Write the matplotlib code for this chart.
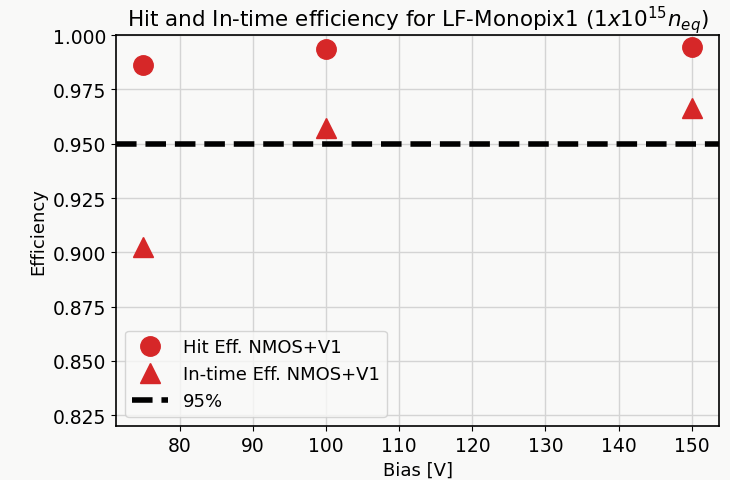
import matplotlib.pyplot as plt

# bias voltages and measured efficiencies
bias = [75, 100, 150]
hit_eff = [0.9862, 0.9936, 0.9945]
intime_eff = [0.9023, 0.9573, 0.9665]
threshold = 0.95

bg = '#f9f9f8'
red = '#d62728'

fig, ax = plt.subplots(figsize=(7.3, 4.81), dpi=100)
fig.patch.set_facecolor(bg)
ax.set_facecolor(bg)

ax.plot(bias, hit_eff, 'o', color=red, markersize=14, label='Hit Eff. NMOS+V1')
ax.plot(bias, intime_eff, '^', color=red, markersize=15, label='In-time Eff. NMOS+V1')
ax.axhline(threshold, color='black', linestyle='--', linewidth=4, label='95%')

ax.set_ylim(0.82, 1.0)
ax.set_xlabel('Bias [V]', fontsize=13)
ax.set_ylabel('Efficiency', fontsize=13)
ax.set_title(r'Hit and In-time efficiency for LF-Monopix1 ($1x10^{15} n_{eq}$)', fontsize=15.5)
ax.tick_params(labelsize=13.5)
ax.grid(True, color='#d4d4d4', linewidth=1)
ax.set_axisbelow(True)
for s in ax.spines.values():
    s.set_linewidth(1.2)

leg = ax.legend(loc='lower left', fontsize=13, facecolor=bg)

plt.subplots_adjust(left=0.159, right=0.985, top=0.925, bottom=0.112)
plt.savefig('out.png', dpi=100, facecolor=bg)
